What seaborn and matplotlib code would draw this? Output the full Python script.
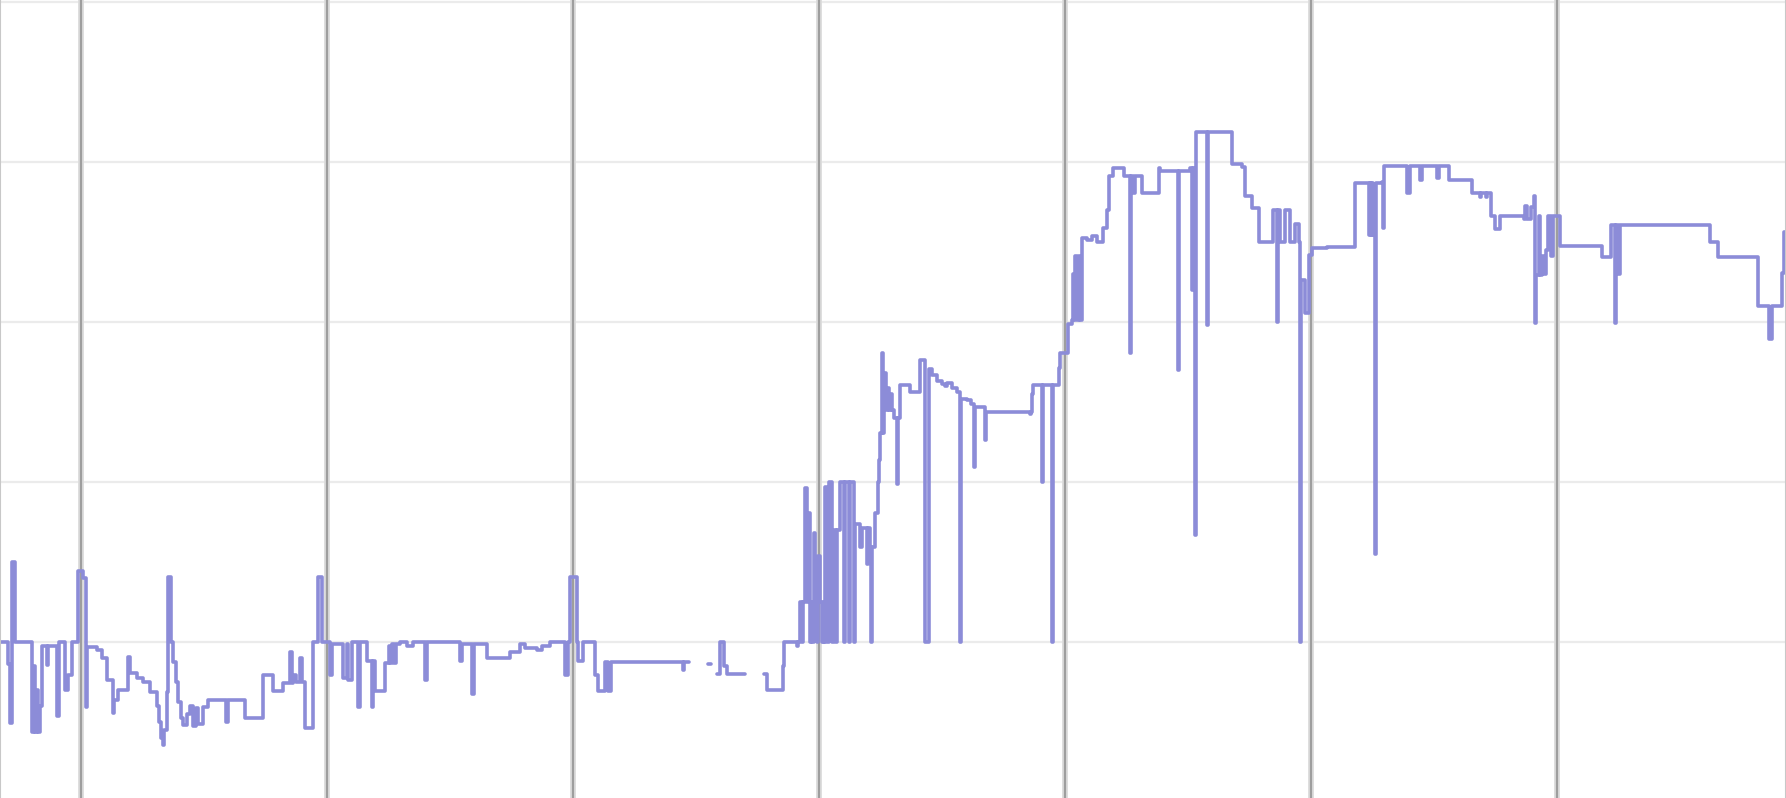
import numpy as np
import pandas as pd
import matplotlib
matplotlib.use("Agg")
import matplotlib.pyplot as plt
import seaborn as sns

# readings, x in hours (gridline every 24h), y in value units (gridline every 20)
seg_a_t = [-7.9, -7.1, -6.9, -6.76, -6.44, -4.81, -4.6, -4.45, -4.3, -4.15, -4.0, -3.84,
           -3.35, -3.2, -2.37, -2.12, -1.56, -1.24, -0.91, -0.26, 0.2, 0.45, 0.49, 0.55,
           1.53, 2.02, 2.5, 3.15, 3.25, 3.64, 4.62, 4.78, 5.43, 6.08, 6.73, 7.38, 7.6, 7.8,
           8.0, 8.1, 8.36, 8.52, 8.75, 9.0, 9.25, 9.5, 9.75, 9.98, 10.3, 10.63, 10.96, 11.2,
           11.45, 11.93, 12.42, 14.1, 14.3, 16.0, 17.79, 18.76, 19.74, 20.39, 20.55, 20.72,
           21.0, 21.37, 21.6, 21.85, 22.67, 23.15, 23.48, 24.3, 24.45, 25.6, 25.9, 26.0, 26.4,
           27.06, 27.2, 27.87, 28.36, 28.5, 28.7, 29.66, 30.0, 30.1, 30.3, 30.5, 30.7, 31.1,
           31.8, 32.4, 33.6, 33.75, 36.98, 37.14, 38.12, 38.34, 39.58, 41.86, 42.83, 43.32,
           44.5, 45.0, 45.76, 47.22, 47.5, 47.71, 48.36, 48.5, 49.0, 50.15, 50.47, 51.12,
           51.45, 51.7, 58.67, 58.85, 59.26]
seg_a_v = [20.0, 17.3, 9.9, 30.0, 20.0, 8.7, 17.0, 8.7, 14.0, 8.7, 12.0, 19.5,
           17.1, 19.5, 10.75, 20.0, 14.0, 15.9, 20.0, 28.9, 28.0, 20.0, 11.9, 19.4,
           19.0, 18.0, 15.25, 11.1, 12.75, 14.0, 18.1, 16.1, 15.5, 15.0, 13.8, 12.0, 10.0, 8.0,
           7.1, 9.0, 13.8, 28.1, 20.0, 17.5, 15.0, 12.5, 10.5, 9.6, 11.0, 12.0, 9.5, 11.7,
           9.8, 11.9, 12.7, 10.0, 12.7, 10.5, 15.9, 13.9, 14.9, 18.8, 14.9, 15.9,
           15.0, 18.0, 15.0, 9.2, 20.0, 28.1, 20.0, 15.9, 19.8, 15.5, 19.8, 15.25, 20.0,
           11.9, 20.0, 17.6, 11.9, 17.6, 13.9, 17.4, 19.5, 17.4, 19.8, 17.4, 19.8, 20.0,
           19.5, 20.0, 15.25, 20.0, 17.6, 19.8, 13.5, 19.8, 18.0, 18.8, 19.8, 19.3,
           19.0, 19.5, 20.0, 15.9, 20.0, 28.1, 20.0, 17.6, 20.0, 15.9, 13.9, 17.5,
           13.9, 17.5, 16.5, 17.5, 17.5]

seg_b_t = [61.2, 61.45]
seg_b_v = [17.25, 17.25]

seg_c_t = [62.02, 62.28, 62.73, 63.0, 64.78]
seg_c_v = [16.0, 20.0, 17.0, 16.0, 16.0]

seg_d_t = [66.57, 66.9, 68.46, 68.6, 69.8, 69.95, 70.15, 70.3, 70.45, 70.64, 70.8, 70.96,
           71.1, 71.19, 71.3, 71.45, 71.6, 71.78, 71.9, 72.1, 72.25, 72.43, 72.5, 72.59,
           72.75, 72.91, 73.24, 73.4, 73.65, 73.75, 74.05, 74.38, 74.5, 74.87, 75.0, 75.35,
           75.5, 76.0, 76.17, 76.65, 76.8, 76.98, 77.04, 77.15, 77.47, 77.7, 77.8, 77.95,
           78.1, 78.2, 78.3, 78.44, 78.55, 78.7, 78.85, 79.0, 79.1, 79.25, 79.58, 79.7, 79.9,
           80.88, 81.85, 82.34, 82.67, 83.0, 83.5, 83.97, 84.3, 84.5, 84.94, 85.43, 85.76,
           85.86, 86.4, 86.8, 87.1, 87.22, 88.2, 88.3, 92.6, 92.7, 92.75, 92.9, 93.73, 93.85,
           94.7, 94.8, 95.35, 95.5, 96.3, 96.65, 96.8, 96.9, 97.0, 97.15, 97.3, 97.45, 97.6,
           98.1, 98.6, 99.1, 99.7, 100.06, 100.3, 100.7, 101.7, 102.3, 102.4, 102.6, 102.8,
           103.48, 105.1, 105.27, 106.96, 107.06, 108.2, 108.36, 108.5, 108.7, 108.8, 109.8,
           109.9, 112.26, 113.2, 113.56, 114.2, 114.86, 116.3, 116.65, 116.75, 116.97, 117.46,
           117.95, 118.4, 118.8, 118.86, 118.95, 119.4, 119.8, 120.06, 121.5, 124.3, 125.6,
           125.7, 125.8, 125.9, 126.0, 126.24, 126.35, 126.9, 127.0, 127.06, 129.33, 129.66,
           130.6, 130.75, 132.3, 132.45, 133.4, 135.7, 136.5, 136.6, 137.0, 137.1, 137.5,
           137.95, 138.4, 140.7, 140.85, 141.0, 141.4, 141.75, 141.85, 141.95, 142.2, 142.35,
           142.5, 142.7, 142.9, 143.1, 143.4, 143.6, 144.3, 148.36, 149.2, 149.6, 149.72,
           149.9, 150.1, 158.9, 159.7, 163.6, 164.6, 164.9, 165.9, 166.1, 166.3]
seg_d_v = [16.0, 14.0, 17.0, 20.0, 19.5, 20.0, 25.0, 20.0, 25.0, 39.2, 25.0, 36.1,
           20.0, 25.0, 20.0, 33.6, 25.0, 20.0, 30.7, 25.0, 20.0, 25.0, 20.0, 39.4,
           20.0, 40.0, 20.0, 34.0, 20.0, 34.0, 40.0, 20.0, 40.0, 20.0, 40.0, 20.0,
           34.8, 31.9, 34.2, 29.8, 34.2, 31.9, 20.0, 31.9, 36.1, 40.0, 42.75, 46.1,
           56.1, 46.1, 50.0, 53.6, 49.0, 51.7, 49.0, 51.0, 49.0, 48.0, 39.8, 48.0, 52.1,
           51.2, 55.25, 20.0, 54.1, 53.4, 52.6, 52.3, 52.0, 52.4, 51.7, 51.3, 20.0,
           50.4, 50.2, 49.8, 41.9, 49.4, 45.2, 48.8, 48.5, 48.8, 51.0, 52.1, 40.0, 52.1,
           20.0, 52.1, 54.2, 56.1, 59.8, 60.2, 66.0, 60.2, 68.2, 60.2, 68.2, 60.2, 70.5,
           70.25, 70.7, 70.0, 71.7, 74.0, 78.2, 79.2, 78.2, 56.1, 78.2, 76.1, 78.2,
           76.1, 79.2, 78.9, 54.0, 78.9, 79.2, 64.0, 79.2, 33.4, 83.7, 59.6,
           83.7, 79.8, 79.4, 75.7, 74.2, 70.0, 74.0, 60.0, 74.0, 70.0, 74.0,
           70.0, 72.2, 70.0, 20.0, 65.25, 61.1, 68.4, 69.2, 69.4, 77.4, 70.9,
           77.4, 70.9, 77.4, 70.9, 31.0, 77.4, 77.5, 71.7, 79.5, 76.1, 79.5,
           77.75, 79.5, 77.95, 79.5, 77.7, 76.1, 75.6, 76.1, 75.6, 76.1, 73.2,
           71.6, 73.2, 72.9, 74.5, 72.9, 74.4, 75.7, 59.9, 65.9, 73.2, 65.9,
           68.2, 66.0, 69.0, 73.2, 68.2, 73.3, 69.5, 68.1, 72.1, 59.9, 72.1,
           66.0, 72.1, 70.0, 68.1, 62.0, 57.9, 62.0, 66.1, 71.3, 71.3]

x_grid = [0, 24, 48, 72, 96, 120, 144]
y_grid = [20, 40, 60, 80, 100]

segments = [(seg_a_t, seg_a_v), (seg_b_t, seg_b_v), (seg_c_t, seg_c_v), (seg_d_t, seg_d_v)]
df = pd.concat(
    [pd.DataFrame({"t": t, "v": v, "seg": i}) for i, (t, v) in enumerate(segments)],
    ignore_index=True,
)

sns.set_style("white")
fig = plt.figure(figsize=(17.86, 7.98), dpi=100)
ax = fig.add_axes([0, 0, 1, 1])

# grid
for y in y_grid:
    ax.axhline(y, color="#ebebeb", linewidth=1.6, zorder=0)
for x in x_grid:
    ax.axvline(x, color="#dcdcdc", linewidth=4.2, zorder=0)
    ax.axvline(x, color="#9e9e9e", linewidth=1.6, zorder=0)

sns.lineplot(data=df, x="t", y="v", units="seg", estimator=None, sort=False,
             drawstyle="steps-post", color="#8c8cd8", linewidth=2.6, ax=ax, legend=False)

ax.set_xlim(-7.9, 166.3)
ax.set_ylim(0.5, 100.25)
ax.set_xticks([])
ax.set_yticks([])
ax.set_xlabel("")
ax.set_ylabel("")
for side in ["top", "bottom"]:
    ax.spines[side].set_visible(False)
for side in ["left", "right"]:
    ax.spines[side].set_color("#c8c8c8")
    ax.spines[side].set_linewidth(1.5)

fig.savefig("out.png", dpi=100)
